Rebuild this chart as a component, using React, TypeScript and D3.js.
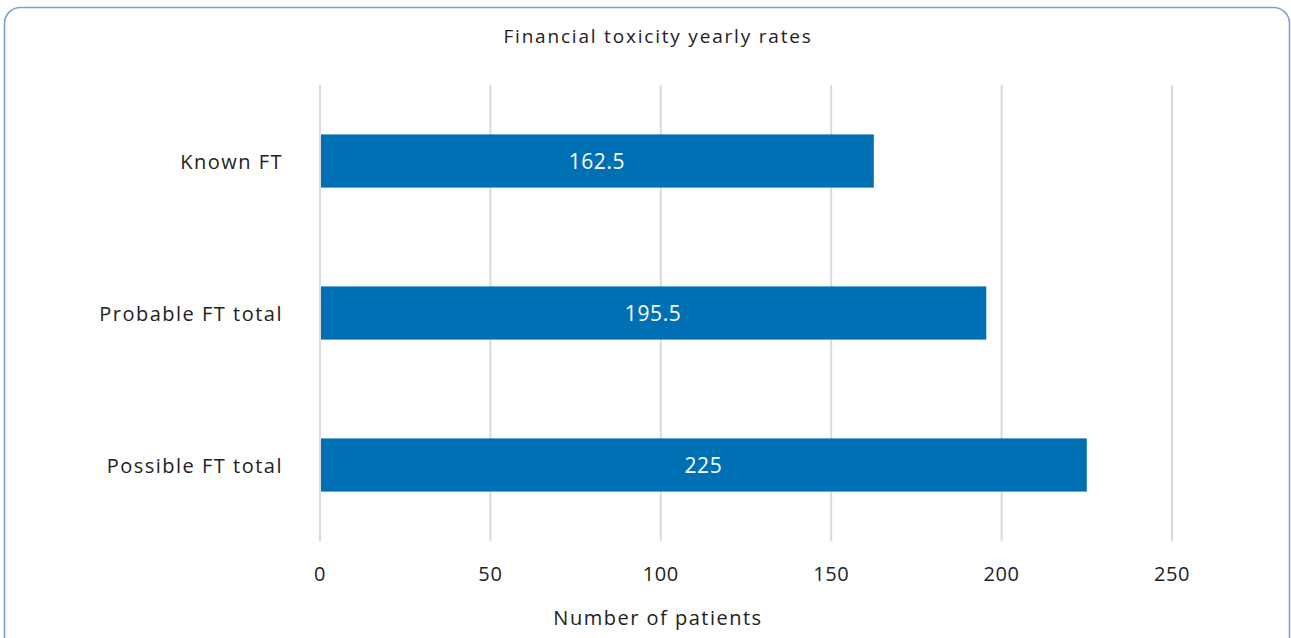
import React from "react";
import * as d3 from "d3";

const categories = ["Known FT", "Probable FT total", "Possible FT total"];
const values = [162.5, 195.5, 225];
const ticks = [0, 50, 100, 150, 200, 250];
const title = "Financial toxicity yearly rates";
const xTitle = "Number of patients";

export default function App() {
  const W = 1291, H = 638;
  const x = d3.scaleLinear().domain([0, 250]).range([320, 1172]);
  const y = d3.scaleBand<string>().domain(categories).range([85, 541]).paddingInner(0.65).paddingOuter(0.325);
  const font = "'Open Sans', sans-serif";
  const numLs = 0.6;
  return (
    <svg width={W} height={H} style={{ position: "absolute", left: 0, top: 0 }} fontFamily={font}>
      <rect x={4.5} y={7.5} width={1285} height={660} rx={16} ry={16} fill="#fff" stroke="#7f9fd6" strokeWidth={1.6} />
      <text x={658} y={36} textAnchor="middle" dominantBaseline="central" fontSize={19} letterSpacing={1.8} fill="#222">{title}</text>
      {ticks.map((t) => (
        <g key={t}>
          <line x1={x(t)} x2={x(t)} y1={85} y2={541} stroke="#d9d9df" strokeWidth={2} />
          <text x={x(t)} y={573} textAnchor="middle" dominantBaseline="central" fontSize={20} letterSpacing={numLs} fill="#222">{t}</text>
        </g>
      ))}
      {categories.map((c, i) => (
        <g key={c}>
          <rect x={x(0) + 1} y={y(c)} width={x(values[i]) - x(0) - 1} height={y.bandwidth()} fill="#0070b5" />
          <text x={(x(0) + x(values[i])) / 2} y={y(c)! + y.bandwidth() / 2} textAnchor="middle" dominantBaseline="central" fontSize={21} letterSpacing={numLs} fill="#fff">{values[i]}</text>
          <text x={283} y={y(c)! + y.bandwidth() / 2} textAnchor="end" dominantBaseline="central" fontSize={20} letterSpacing={1.5} fill="#222">{c}</text>
        </g>
      ))}
      <text x={658} y={617} textAnchor="middle" dominantBaseline="central" fontSize={20} letterSpacing={1.5} fill="#222">{xTitle}</text>
    </svg>
  );
}
